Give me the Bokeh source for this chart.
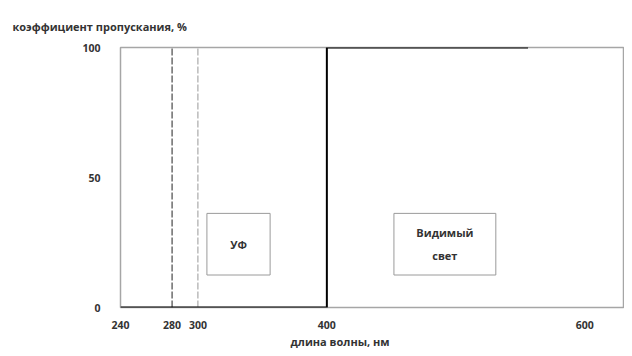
from bokeh.plotting import figure
from bokeh.models import Range1d, FixedTicker, Title, Label
from bokeh.embed import file_html
from bokeh.resources import INLINE

# data
curve_x = [240, 400, 400, 556]
curve_y = [0, 0, 100, 100]
uv_lines = [280, 300]
x_ticks = [240, 280, 300, 400, 600]
y_ticks = [0, 50, 100]
box_labels = ["УФ", "Видимый\nсвет"]
box_left = [307, 452]
box_right = [356, 531]
box_bottom = [12.5, 12.5]
box_top = [36.2, 36.2]

FONT = "Open Sans"
TXT = "#333333"
FS = "11px"

p = figure(width=624, height=348, output_backend="svg", toolbar_location=None,
           x_range=Range1d(240, 630), y_range=Range1d(0, 100),
           min_border_left=120, min_border_right=1, min_border_top=47, min_border_bottom=36)
p.xgrid.visible = False
p.ygrid.visible = False
p.background_fill_color = "white"
p.border_fill_color = "white"
p.outline_line_color = "#a6a6a6"
p.outline_line_width = 1.5

for ax in (p.xaxis[0], p.yaxis[0]):
    ax.axis_line_color = None
    ax.major_tick_line_color = None
    ax.minor_tick_line_color = None
    ax.major_label_text_font = FONT
    ax.major_label_text_font_style = "bold"
    ax.major_label_text_font_size = "10.5px"
    ax.major_label_text_color = TXT

p.xaxis.ticker = FixedTicker(ticks=x_ticks)
p.yaxis.ticker = FixedTicker(ticks=y_ticks)
p.xaxis.major_label_standoff = 7
p.yaxis.major_label_standoff = 14

t = Title(text="коэффициент пропускания, %", align="left", offset=-108,
          text_font=FONT, text_font_style="bold", text_font_size=FS,
          text_color=TXT, standoff=28)
p.add_layout(t, "above")

xt = Title(text="длина волны, нм", align="left", offset=170,
           text_font=FONT, text_font_style="bold", text_font_size=FS,
           text_color=TXT, standoff=0)
p.add_layout(xt, "below")

# dashed UV lines
p.line([uv_lines[0], uv_lines[0]], [0, 100], line_color="#555555", line_width=1.3, line_dash="7 2")
p.line([uv_lines[1], uv_lines[1]], [0, 100], line_color="#b0b0b0", line_width=1.3, line_dash="7 2")

# transmission curve
p.line(curve_x, curve_y, line_color="black", line_width=2)

# boxes
p.quad(left=box_left, right=box_right, bottom=box_bottom, top=box_top,
       fill_color="white", line_color="#9a9a9a", line_width=1)
for i, lab in enumerate(box_labels):
    cx = (box_left[i] + box_right[i]) / 2
    cy = (box_bottom[i] + box_top[i]) / 2
    p.add_layout(Label(x=cx, y=cy, text=lab, text_align="center", text_baseline="middle",
                       text_font=FONT, text_font_style="bold", text_font_size="11px",
                       text_color=TXT, text_line_height=1.5))

open("out.html", "w").write(file_html(p, INLINE))
